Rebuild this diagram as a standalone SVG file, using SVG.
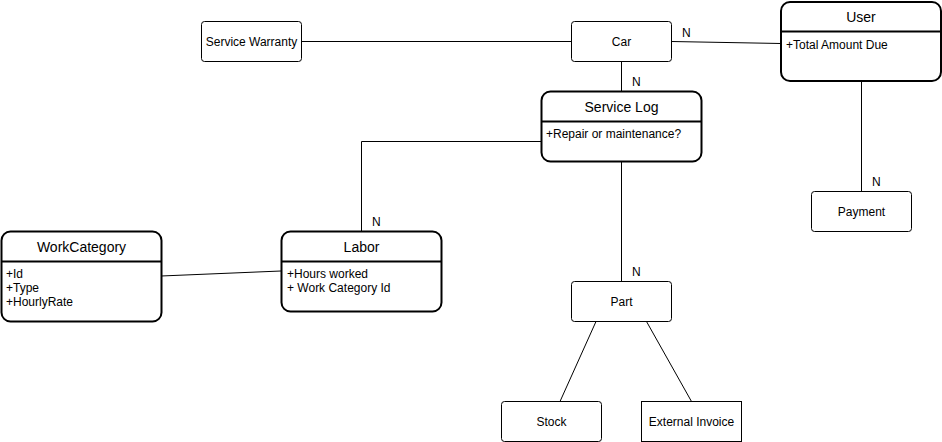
<svg xmlns="http://www.w3.org/2000/svg" width="942" height="442" viewBox="0 0 942 442">
  <style>
    .box { fill: #ffffff; stroke: #000000; stroke-width: 1; }
    .ent { fill: #ffffff; stroke: #000000; stroke-width: 2; }
    .sep { stroke: #000000; stroke-width: 2; }
    .edge { fill: none; stroke: #000000; stroke-width: 1; }
    text { font-family: "Liberation Sans", Arial, sans-serif; fill: #000000; }
    .lbl { font-size: 12px; text-anchor: middle; dominant-baseline: central; }
    .title { font-size: 14px; text-anchor: middle; dominant-baseline: central; }
    .attr { font-size: 12px; dominant-baseline: central; }
    .card { font-size: 12px; dominant-baseline: central; }
  </style>
  <rect x="0" y="0" width="942" height="442" fill="#ffffff"/>

  <g id="connectors">
    <path class="edge" d="M301.5 41.5 H571.5"/>
    <path class="edge" d="M671.5 41.5 L781 43.5"/>
    <path class="edge" d="M621.5 61.5 V91.5"/>
    <path class="edge" d="M541.5 141.5 H361.5 V231.5"/>
    <path class="edge" d="M621.5 161.5 V281.5"/>
    <path class="edge" d="M861.5 81 V191.5"/>
    <path class="edge" d="M161 276 L281 271"/>
    <path class="edge" d="M596 321.5 L560 401.5"/>
    <path class="edge" d="M646.5 321.5 L691.5 401.5"/>
    <text class="card" x="682" y="33">N</text>
    <text class="card" x="632" y="82">N</text>
    <text class="card" x="372" y="222">N</text>
    <text class="card" x="632" y="272">N</text>
    <text class="card" x="872" y="182">N</text>
  </g>

  <g id="service-warranty">
    <rect class="box" x="201.5" y="21.5" width="100" height="40" rx="3"/>
    <text class="lbl" x="251.5" y="41.5">Service Warranty</text>
  </g>

  <g id="car">
    <rect class="box" x="571.5" y="21.5" width="100" height="40" rx="3"/>
    <text class="lbl" x="621.5" y="41.5">Car</text>
  </g>

  <g id="user">
    <rect class="ent" x="781" y="2" width="160" height="79" rx="9"/>
    <line class="sep" x1="781" y1="31.5" x2="941" y2="31.5"/>
    <text class="title" x="861" y="17">User</text>
    <text class="attr" x="786" y="45">+Total Amount Due</text>
  </g>

  <g id="service-log">
    <rect class="ent" x="541.5" y="91.5" width="160" height="70" rx="9"/>
    <line class="sep" x1="541.5" y1="121.5" x2="701.5" y2="121.5"/>
    <text class="title" x="621.5" y="107">Service Log</text>
    <text class="attr" x="546" y="134">+Repair or maintenance?</text>
  </g>

  <g id="payment">
    <rect class="box" x="811.5" y="191.5" width="100" height="40" rx="3"/>
    <text class="lbl" x="861.5" y="211.5">Payment</text>
  </g>

  <g id="work-category">
    <rect class="ent" x="1.5" y="231.5" width="160" height="90" rx="9"/>
    <line class="sep" x1="1.5" y1="261.5" x2="161.5" y2="261.5"/>
    <text class="title" x="81.5" y="247">WorkCategory</text>
    <text class="attr" x="6" y="274">+Id</text>
    <text class="attr" x="6" y="288">+Type</text>
    <text class="attr" x="6" y="302">+HourlyRate</text>
  </g>

  <g id="labor">
    <rect class="ent" x="281.5" y="231.5" width="160" height="80" rx="9"/>
    <line class="sep" x1="281.5" y1="261.5" x2="441.5" y2="261.5"/>
    <text class="title" x="361.5" y="247">Labor</text>
    <text class="attr" x="287" y="274">+Hours worked</text>
    <text class="attr" x="287" y="288">+ Work Category Id</text>
  </g>

  <g id="part">
    <rect class="box" x="571.5" y="281.5" width="100" height="40" rx="3"/>
    <text class="lbl" x="621.5" y="301.5">Part</text>
  </g>

  <g id="stock">
    <rect class="box" x="501.5" y="401.5" width="100" height="40" rx="3"/>
    <text class="lbl" x="551.5" y="421.5">Stock</text>
  </g>

  <g id="external-invoice">
    <rect class="box" x="641.5" y="401.5" width="100" height="40"/>
    <text class="lbl" x="691.5" y="421.5">External Invoice</text>
  </g>
</svg>
